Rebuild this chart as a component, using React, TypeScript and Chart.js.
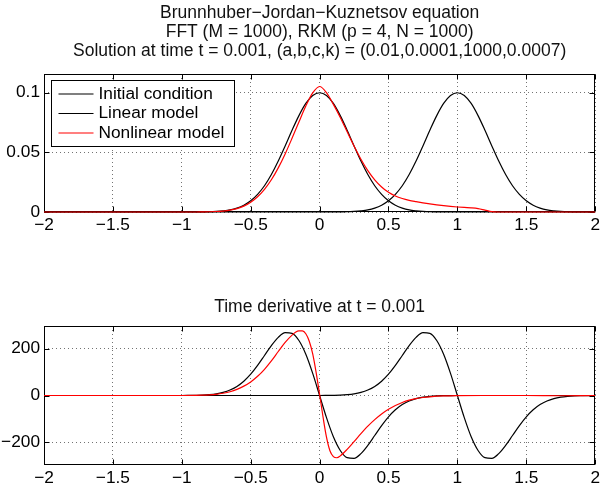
import React, { useEffect, useRef } from 'react';
import { Chart, registerables } from 'chart.js';

Chart.register(...registerables);

const FONT = '"Liberation Sans", Arial, Helvetica, sans-serif';

const topTitle = [
  'Brunnhuber\u2212Jordan\u2212Kuznetsov equation',
  'FFT (M = 1000), RKM (p = 4, N = 1000)',
  'Solution at time t = 0.001, (a,b,c,k) = (0.01,0.0001,1000,0.0007)',
];
const bottomTitle = 'Time derivative at t = 0.001';
const seriesNames = ['Initial condition', 'Linear model', 'Nonlinear model'];

const xTicks = [-2, -1.5, -1, -0.5, 0, 0.5, 1, 1.5, 2];
const xTickLabels = ['\u22122', '\u22121.5', '\u22121', '\u22120.5', '0', '0.5', '1', '1.5', '2'];
const topYTicks = [0, 0.05, 0.1];
const topYTickLabels = ['0', '0.05', '0.1'];
const bottomYTicks = [-200, 0, 200];
const bottomYTickLabels = ['\u2212200', '0', '200'];

const xGrid = [
  -2, -1.8, -1.6, -1.4, -1.2,
  -1, -0.95, -0.9, -0.85, -0.8, -0.75, -0.7, -0.65, -0.6, -0.55,
  -0.5, -0.45, -0.4, -0.35, -0.3, -0.25, -0.2, -0.15, -0.1, -0.05,
  0, 0.05, 0.1, 0.15, 0.2, 0.25, 0.3, 0.35, 0.4, 0.45,
  0.5, 0.55, 0.6, 0.65, 0.7, 0.75, 0.8, 0.85, 0.9, 0.95,
  1, 1.05, 1.1, 1.15, 1.2, 1.25, 1.3, 1.35, 1.4, 1.45,
  1.5, 1.55, 1.6, 1.65, 1.7, 1.75, 1.8, 1.85, 1.9, 1.95, 2,
];

const uInitial = [
  0, 0, 0, 0, 0,
  0, 0, 0, 0.0001, 0.0002, 0.0005, 0.001, 0.0018, 0.0033, 0.0057,
  0.0094, 0.0148, 0.022, 0.0314, 0.0427, 0.0554, 0.0685, 0.0808, 0.091, 0.0977,
  0.1, 0.0977, 0.091, 0.0808, 0.0685, 0.0554, 0.0427, 0.0314, 0.022, 0.0148,
  0.0094, 0.0057, 0.0033, 0.0018, 0.001, 0.0005, 0.0002, 0.0001, 0, 0,
  0, 0, 0, 0, 0, 0, 0, 0, 0, 0,
  0, 0, 0, 0, 0, 0, 0, 0, 0, 0, 0,
];

const uLinear = [
  0, 0, 0, 0, 0,
  0, 0, 0, 0, 0, 0, 0, 0, 0, 0,
  0, 0, 0, 0, 0, 0, 0, 0, 0, 0,
  0, 0, 0, 0.0001, 0.0002, 0.0005, 0.001, 0.0018, 0.0033, 0.0057,
  0.0094, 0.0148, 0.022, 0.0314, 0.0427, 0.0554, 0.0685, 0.0808, 0.091, 0.0977,
  0.1, 0.0977, 0.091, 0.0808, 0.0685, 0.0554, 0.0427, 0.0314, 0.022, 0.0148,
  0.0094, 0.0057, 0.0033, 0.0018, 0.001, 0.0005, 0.0002, 0.0001, 0, 0, 0,
];

const uNonlinear = [
  0, 0, 0, 0, 0,
  0, 0, 0, 0.0001, 0.0002, 0.0004, 0.0008, 0.0015, 0.0028, 0.0049,
  0.0082, 0.0128, 0.019, 0.027, 0.037, 0.0487, 0.0618, 0.0755, 0.0888, 0.0998,
  0.1052, 0.1, 0.0902, 0.0793, 0.0672, 0.0553, 0.0442, 0.0347, 0.027, 0.021,
  0.0165, 0.0134, 0.0113, 0.0098, 0.0087, 0.0077, 0.0068, 0.006, 0.0053, 0.0047,
  0.0042, 0.0038, 0.0035, 0.0029, 0.0016, 0.0003, 0, 0, 0, 0,
  0, 0, 0, 0, 0, 0, 0, 0, 0, 0, 0,
];

const dInitial = [
  0, 0, 0, 0, 0,
  0, 0.3, 0.8, 1.7, 3.7, 7.1, 13.2, 23.2, 38.7, 61.1,
  91.1, 128.6, 170.9, 213.1, 248.3, 268.3, 265.6, 234.9, 176.3, 94.6,
  0, -94.6, -176.3, -234.9, -265.6, -268.3, -248.3, -213.1, -170.9, -128.6,
  -91.1, -61.1, -38.7, -23.2, -13.2, -7.1, -3.7, -1.7, -0.8, -0.3,
  0, 0, 0, 0, 0, 0, 0, 0, 0, 0,
  0, 0, 0, 0, 0, 0, 0, 0, 0, 0, 0,
];

const dLinear = [
  0, 0, 0, 0, 0,
  0, 0, 0, 0, 0, 0, 0, 0, 0, 0,
  0, 0, 0, 0, 0, 0, 0, 0, 0, 0,
  0, 0.3, 0.8, 1.7, 3.7, 7.1, 13.2, 23.2, 38.7, 61.1,
  91.1, 128.6, 170.9, 213.1, 248.3, 268.3, 265.6, 234.9, 176.3, 94.6,
  0, -94.6, -176.3, -234.9, -265.6, -268.3, -248.3, -213.1, -170.9, -128.6,
  -91.1, -61.1, -38.7, -23.2, -13.2, -7.1, -3.7, -1.7, -0.8, -0.3, 0,
];

const xNonlinearDeriv = [
  -2, -1.5, -1, -0.9, -0.85, -0.8, -0.75, -0.7, -0.65, -0.6, -0.55,
  -0.5, -0.45, -0.4, -0.35, -0.3, -0.25, -0.2, -0.175, -0.15, -0.125,
  -0.1, -0.075, -0.05, -0.025, 0, 0.025, 0.05, 0.075, 0.1, 0.125,
  0.15, 0.2, 0.25, 0.3, 0.35, 0.4, 0.45, 0.5, 0.55, 0.6,
  0.65, 0.7, 0.75, 0.8, 0.9, 1, 1.2, 1.5, 1.75, 2,
];
const dNonlinear = [
  0, 0, 0, 0.5, 1.2, 2.5, 5, 9.5, 16, 26, 40,
  58, 82, 112, 148, 188, 227, 258, 270, 276, 276,
  264, 232, 178, 98, 5, -92, -178, -236, -261, -266,
  -258, -230, -197, -163, -131, -103, -79, -59, -43, -30,
  -20, -13, -8.5, -5.5, -2, -0.7, 0, 0, -1, 0,
];

const GRID_COLOR = 'rgba(0,0,0,0.55)';

function pts(xs: number[], ys: number[]) {
  return xs.map((x, i) => ({ x, y: ys[i] }));
}

const framePlugin = {
  id: 'frame',
  beforeDatasetsDraw(chart: any) {
    const { ctx, chartArea: a, scales } = chart;
    const L = Math.round(a.left) + 0.5;
    const R = Math.round(a.right) - 0.5;
    const T = Math.round(a.top) + 0.5;
    const B = Math.round(a.bottom) - 0.5;
    ctx.save();
    ctx.strokeStyle = '#000';
    ctx.lineWidth = 1;
    ctx.setLineDash([]);
    ctx.beginPath();
    const tl = 5;
    scales.x.ticks.forEach((t: any) => {
      const p = Math.round(scales.x.getPixelForValue(t.value)) + 0.5;
      ctx.moveTo(p, B);
      ctx.lineTo(p, B - tl);
      ctx.moveTo(p, T);
      ctx.lineTo(p, T + tl);
    });
    scales.y.ticks.forEach((t: any) => {
      const p = Math.round(scales.y.getPixelForValue(t.value)) + 0.5;
      ctx.moveTo(L, p);
      ctx.lineTo(L + tl, p);
      ctx.moveTo(R, p);
      ctx.lineTo(R - tl, p);
    });
    ctx.stroke();
    ctx.strokeRect(L, T, R - L, B - T);
    ctx.restore();
  },
};

const legendPlugin = {
  id: 'boxLegend',
  afterDatasetsDraw(chart: any) {
    const { ctx, chartArea: a } = chart;
    const x0 = Math.round(a.left) + 7.5;
    const y0 = Math.round(a.top) + 6.5;
    const w = 183;
    const h = 66;
    ctx.save();
    ctx.fillStyle = '#fff';
    ctx.fillRect(x0, y0, w, h);
    ctx.strokeStyle = '#000';
    ctx.lineWidth = 1;
    ctx.strokeRect(x0, y0, w, h);
    ctx.font = `17.3px ${FONT}`;
    ctx.textBaseline = 'middle';
    ctx.textAlign = 'left';
    chart.data.datasets.forEach((ds: any, i: number) => {
      const y = y0 + 13.5 + i * 19.5;
      ctx.strokeStyle = ds.borderColor;
      ctx.lineWidth = 1.2;
      ctx.beginPath();
      ctx.moveTo(x0 + 7, y);
      ctx.lineTo(x0 + 42, y);
      ctx.stroke();
      ctx.fillStyle = '#000';
      ctx.fillText(ds.label, x0 + 47, y);
    });
    ctx.restore();
  },
};

function makeScales(yMin: number, yMax: number, yTicks: number[], yLabels: string[], xHeight: number) {
  return {
    x: {
      type: 'linear',
      min: -2,
      max: 2,
      afterBuildTicks: (s: any) => {
        s.ticks = xTicks.map((v) => ({ value: v }));
      },
      afterFit: (s: any) => {
        s.height = xHeight;
      },
      ticks: {
        callback: (_v: any, i: number) => xTickLabels[i],
        font: { size: 17.3, family: FONT },
        color: '#000',
        padding: 3,
        maxRotation: 0,
        autoSkip: false,
      },
      grid: { color: GRID_COLOR, drawTicks: false, lineWidth: 1 },
      border: { display: false, dash: [1, 3] },
    },
    y: {
      type: 'linear',
      min: yMin,
      max: yMax,
      afterBuildTicks: (s: any) => {
        s.ticks = yTicks.map((v) => ({ value: v }));
      },
      afterFit: (s: any) => {
        s.width = 44;
      },
      ticks: {
        callback: (_v: any, i: number) => yLabels[i],
        font: { size: 17.3, family: FONT },
        color: '#000',
        padding: 4,
        autoSkip: false,
      },
      grid: { color: GRID_COLOR, drawTicks: false, lineWidth: 1 },
      border: { display: false, dash: [1, 3] },
    },
  };
}

function lineDs(label: string, data: any[], color: string, order: number) {
  return {
    label,
    data,
    borderColor: color,
    backgroundColor: color,
    borderWidth: 1.2,
    pointRadius: 0,
    fill: false,
    cubicInterpolationMode: 'monotone',
    order,
    clip: false,
  };
}

export default function App() {
  const topRef = useRef<HTMLCanvasElement>(null);
  const botRef = useRef<HTMLCanvasElement>(null);

  useEffect(() => {
    Chart.defaults.font.family = FONT;
    Chart.defaults.color = '#000';

    const top = new Chart(topRef.current as HTMLCanvasElement, {
      type: 'line',
      data: {
        datasets: [
          lineDs(seriesNames[0], pts(xGrid, uInitial), '#000000', 2),
          lineDs(seriesNames[1], pts(xGrid, uLinear), '#000000', 1),
          lineDs(seriesNames[2], pts(xGrid, uNonlinear), '#ff0000', 0),
        ],
      } as any,
      options: {
        responsive: false,
        animation: false,
        layout: { padding: { left: 0, right: 5, top: 0, bottom: 0 } },
        scales: makeScales(0, 0.1157, topYTicks, topYTickLabels, 28) as any,
        plugins: {
          legend: { display: false },
          tooltip: { enabled: false },
          title: {
            display: true,
            fullSize: false,
            text: topTitle,
            color: '#111',
            font: { size: 17.5, weight: 'normal', family: FONT, lineHeight: 19 / 17.5 },
            padding: { top: 4, bottom: 13 },
          },
        },
      } as any,
      plugins: [framePlugin, legendPlugin],
    });

    const bottom = new Chart(botRef.current as HTMLCanvasElement, {
      type: 'line',
      data: {
        datasets: [
          lineDs(seriesNames[0], pts(xGrid, dInitial), '#000000', 2),
          lineDs(seriesNames[1], pts(xGrid, dLinear), '#000000', 1),
          lineDs(seriesNames[2], pts(xNonlinearDeriv, dNonlinear), '#ff0000', 0),
        ],
      } as any,
      options: {
        responsive: false,
        animation: false,
        layout: { padding: { left: 0, right: 5, top: 0, bottom: 0 } },
        scales: makeScales(-297, 297, bottomYTicks, bottomYTickLabels, 22) as any,
        plugins: {
          legend: { display: false },
          tooltip: { enabled: false },
          title: {
            display: true,
            fullSize: false,
            text: bottomTitle,
            color: '#111',
            font: { size: 17.5, weight: 'normal', family: FONT, lineHeight: 19 / 17.5 },
            padding: { top: 58, bottom: 9 },
          },
        },
      } as any,
      plugins: [framePlugin],
    });

    return () => {
      top.destroy();
      bottom.destroy();
    };
  }, []);

  return (
    <div style={{ position: 'absolute', left: 0, top: 0, width: 603, height: 487, background: '#fff' }}>
      <canvas ref={topRef} width={603} height={240} style={{ display: 'block' }} />
      <canvas ref={botRef} width={603} height={247} style={{ display: 'block' }} />
    </div>
  );
}
